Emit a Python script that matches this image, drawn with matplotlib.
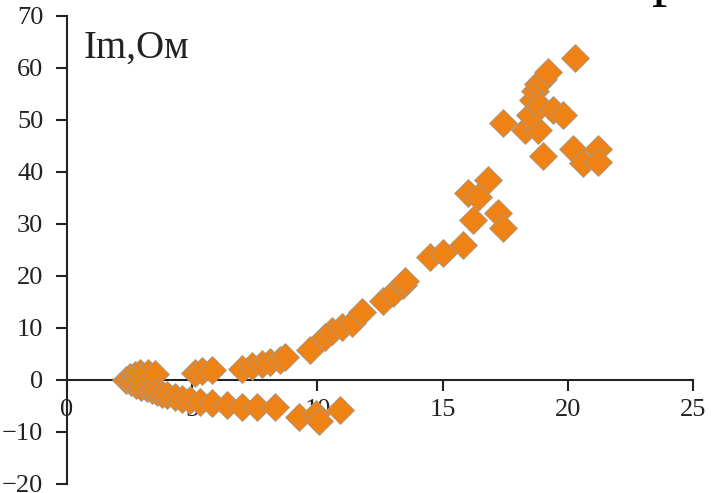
import numpy as np
import matplotlib.pyplot as plt

# Re (Ohm) and Im (Ohm)
re_vals = [2.35, 2.5, 2.55, 2.7, 2.75, 2.85, 2.9, 2.95, 3.05, 3.1, 3.2, 3.25, 3.4, 3.5,
           3.6, 3.8, 4.0, 4.3, 4.6, 4.9, 5.3, 5.8, 6.4, 7.0, 7.6, 8.3,
           9.25, 9.95, 10.05, 10.9,
           5.1, 5.4, 5.8, 7.0, 7.4, 7.8, 8.1, 8.5, 8.7, 9.7,
           10.3, 10.6, 11.0, 11.4, 11.8, 12.6, 13.0, 13.4, 13.5,
           14.5, 15.0, 15.8, 16.0, 16.2, 16.4, 16.8, 17.2, 17.4,
           17.4, 18.3, 18.8, 18.5, 18.6, 18.7, 18.8, 19.0, 19.2, 18.9, 19.4, 19.8,
           19.0, 20.3, 20.2, 21.2, 20.6, 21.2]
im_vals = [0.0, 0.6, -0.4, 1.0, -0.9, 0.5, 1.3, -1.3, 0.8, -0.3, -1.6, 1.4, -2.0, 1.2,
           -2.3, -2.6, -2.9, -3.3, -3.6, -3.9, -4.2, -4.5, -4.8, -5.2, -5.1, -5.1,
           -7.1, -6.6, -7.9, -5.8,
           1.3, 1.8, 1.9, 2.2, 2.6, 3.0, 3.5, 3.9, 4.4, 5.8,
           8.3, 9.4, 10.2, 11.0, 13.0, 15.2, 16.7, 18.3, 19.0,
           23.7, 24.4, 26.0, 36.0, 30.8, 35.2, 38.5, 32.1, 29.2,
           49.4, 48.1, 48.1, 51.0, 53.8, 55.5, 57.0, 57.8, 59.3, 52.6, 51.9, 51.0,
           43.0, 62.0, 44.5, 44.5, 41.8, 42.0]

x_ticks = [0, 5, 10, 15, 20, 25]
y_ticks = [-20, -10, 0, 10, 20, 30, 40, 50, 60, 70]

plt.rcParams['font.family'] = ['Liberation Serif', 'DejaVu Serif']
txt_color = '#222222'

fig = plt.figure(figsize=(7.11, 4.93), dpi=100)
ax = fig.add_axes([67 / 711, 1 - 484 / 493, (693 - 67) / 711, (484 - 16) / 493])

ax.plot(re_vals, im_vals, linestyle='none', marker='D', markersize=14,
        markerfacecolor='#EE8214', markeredgecolor='#a39a92', markeredgewidth=0.6,
        zorder=3, clip_on=False)

ax.set_xlim(0, 25)
ax.set_ylim(-20, 70)
ax.set_xticks(x_ticks)
ax.set_yticks(y_ticks)

ax.spines['top'].set_visible(False)
ax.spines['right'].set_visible(False)
ax.spines['bottom'].set_position(('data', 0))
for s in ['left', 'bottom']:
    ax.spines[s].set_linewidth(1.5)
    ax.spines[s].set_color(txt_color)

ax.tick_params(axis='both', direction='out', length=8, width=1.5, color=txt_color,
               labelsize=19, labelcolor=txt_color)
ax.tick_params(axis='y', pad=9)
ax.tick_params(axis='x', pad=6)

ax.text(0.65, 62, 'Im,Ом', fontsize=28, color=txt_color, va='baseline', ha='left')

# descender of the slide title letter cut by the top edge
fig.text(667 / 711, 1 + 6 / 493, 'р', fontsize=44, color='black',
         ha='center', va='baseline')

fig.savefig('out.png', dpi=100)
